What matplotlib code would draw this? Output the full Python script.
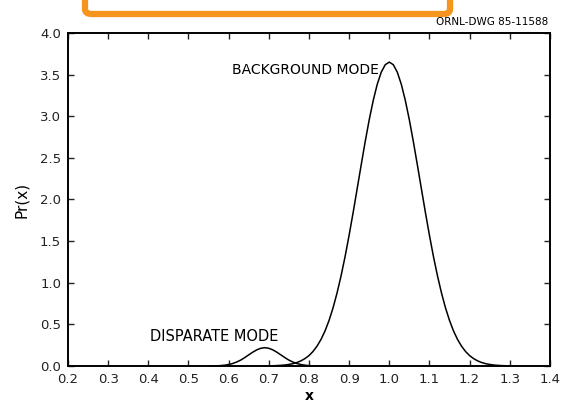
import matplotlib.pyplot as plt
from matplotlib.patches import FancyBboxPatch

# background mode curve (x step 0.01)
bg_x = [round(0.70 + 0.01 * i, 2) for i in range(61)]
bg_left = [0.002, 0.003, 0.005, 0.008, 0.012, 0.019, 0.028, 0.042, 0.062, 0.089,
           0.125, 0.174, 0.238, 0.319, 0.421, 0.547, 0.699, 0.878, 1.084, 1.315,
           1.571, 1.843, 2.128, 2.414, 2.694, 2.956, 3.189, 3.383, 3.529, 3.619]
bg_peak = 3.650
bg_y = bg_left + [bg_peak] + bg_left[::-1]

# disparate mode curve
dm_x = [round(0.55 + 0.01 * i, 2) for i in range(29)]
dm_left = [0.000, 0.001, 0.002, 0.005, 0.010, 0.018, 0.030, 0.048, 0.071, 0.101,
           0.134, 0.166, 0.194, 0.213]
dm_peak = 0.220
dm_y = dm_left + [dm_peak] + dm_left[::-1]

xticks = [0.2, 0.3, 0.4, 0.5, 0.6, 0.7, 0.8, 0.9, 1.0, 1.1, 1.2, 1.3, 1.4]
yticks = [0.0, 0.5, 1.0, 1.5, 2.0, 2.5, 3.0, 3.5, 4.0]

fig = plt.figure(figsize=(5.64, 4.07), dpi=100)
ax = fig.add_axes([0.1206, 0.1007, 0.8544, 0.8183])

ax.plot(bg_x, bg_y, color='black', lw=1.1)
ax.plot(dm_x, dm_y, color='black', lw=1.1)

ax.set_xlim(0.2, 1.4)
ax.set_ylim(0.0, 4.0)
ax.set_xticks(xticks)
ax.set_yticks(yticks)
ax.set_xticklabels([f'{v:.1f}' for v in xticks])
ax.set_yticklabels([f'{v:.1f}' for v in yticks])
ax.tick_params(direction='in', top=True, right=True, length=4, width=1,
               labelsize=9.5, colors='#222222', pad=5)
for s in ax.spines.values():
    s.set_linewidth(1.4)

ax.set_xlabel('x', fontsize=10, fontweight='bold', labelpad=2)
ax.set_ylabel('Pr(x)', fontsize=11, labelpad=8)

ax.text(0.975, 3.55, 'BACKGROUND MODE', ha='right', va='center', fontsize=10)
ax.text(0.405, 0.36, 'DISPARATE MODE', ha='left', va='center', fontsize=10.5)

fig.text(0.972, 0.946, 'ORNL-DWG 85-11588', ha='right', va='center', fontsize=7.5)

# orange highlight box cut off at the top of the image
fig.patches.append(FancyBboxPatch((85 / 564, 1 - 14 / 407), 365 / 564, 0.1,
                                  boxstyle='round,pad=0,rounding_size=0.012',
                                  transform=fig.transFigure, fill=False,
                                  edgecolor='#F7941D', lw=4.5))

fig.savefig('out.png', dpi=100)
